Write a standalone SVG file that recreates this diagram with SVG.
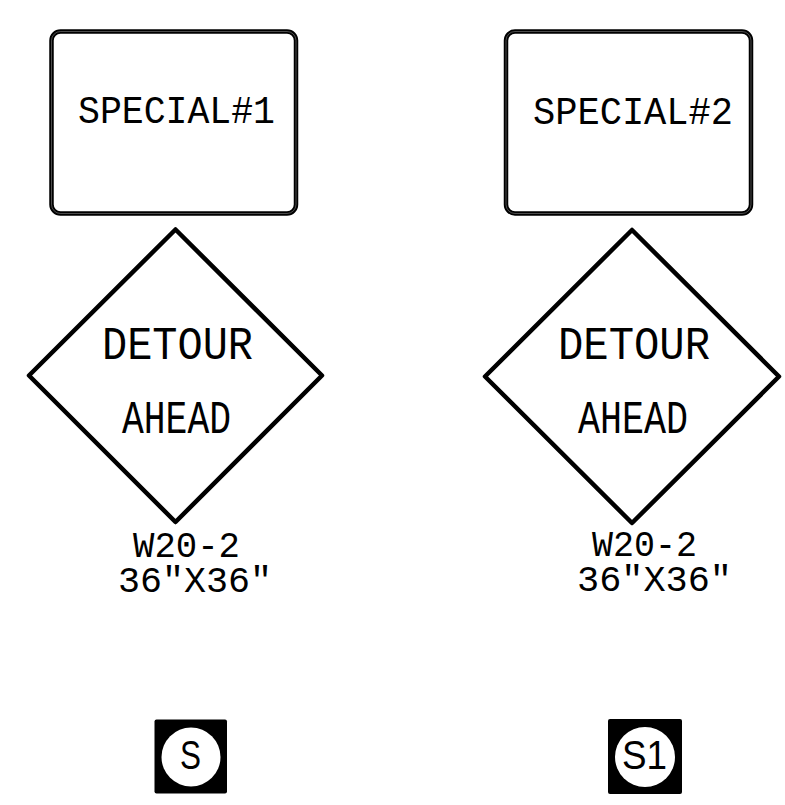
<svg xmlns="http://www.w3.org/2000/svg" width="785" height="805" viewBox="0 0 785 805">
<style>
.frame{fill:#fff;stroke:#000;stroke-width:4.5;stroke-linejoin:round}
.inner{fill:none;stroke:#fff;stroke-width:0.6;opacity:0.5}
.t{font-family:"Liberation Mono","DejaVu Sans Mono",monospace;fill:#000}
.s{font-family:"Liberation Sans","DejaVu Sans",sans-serif;fill:#000}
</style>
<rect width="785" height="805" fill="#fff"/>
<g id="special1">
<rect class="frame" x="51.5" y="31.5" width="244.5" height="182" rx="9"/>
<rect class="inner" x="51.5" y="31.5" width="244.5" height="182" rx="9"/>
<text class="t" x="78" y="123" font-size="38" textLength="197" lengthAdjust="spacingAndGlyphs">SPECIAL#1</text>
</g>
<g id="special2">
<rect class="frame" x="506" y="31.5" width="245" height="182" rx="9"/>
<rect class="inner" x="506" y="31.5" width="245" height="182" rx="9"/>
<text class="t" x="533" y="124" font-size="38" textLength="200" lengthAdjust="spacingAndGlyphs">SPECIAL#2</text>
</g>
<g id="detour1">
<polygon class="frame" points="175.5,229.5 322,375.5 175.5,522 29,375.5"/>
<text class="t" x="102" y="359" font-size="47" textLength="151" lengthAdjust="spacingAndGlyphs">DETOUR</text>
<text class="t" x="122" y="433" font-size="47" textLength="109" lengthAdjust="spacingAndGlyphs">AHEAD</text>
</g>
<g id="detour2">
<polygon class="frame" points="632,230 779,376.5 632,523 485,376.5"/>
<text class="t" x="558" y="359" font-size="47" textLength="152" lengthAdjust="spacingAndGlyphs">DETOUR</text>
<text class="t" x="578" y="433" font-size="47" textLength="110" lengthAdjust="spacingAndGlyphs">AHEAD</text>
</g>
<g id="label1">
<text class="t" x="133" y="557" font-size="36" textLength="107" lengthAdjust="spacingAndGlyphs">W20-2</text>
<text class="t" x="118" y="592" font-size="36" textLength="154" lengthAdjust="spacingAndGlyphs">36"X36"</text>
</g>
<g id="label2">
<text class="t" x="592" y="556" font-size="36" textLength="105" lengthAdjust="spacingAndGlyphs">W20-2</text>
<text class="t" x="577" y="591" font-size="36" textLength="155" lengthAdjust="spacingAndGlyphs">36"X36"</text>
</g>
<g id="badgeS">
<rect x="154.5" y="719.5" width="72.5" height="74" rx="2" fill="#000"/>
<circle cx="191" cy="757" r="29.5" fill="#fff"/>
<text class="s" x="180" y="769" font-size="41" textLength="21" lengthAdjust="spacingAndGlyphs">S</text>
</g>
<g id="badgeS1">
<rect x="608" y="719" width="74" height="75" rx="2" fill="#000"/>
<circle cx="645" cy="757" r="30" fill="#fff"/>
<text class="s" x="622" y="769" font-size="41" textLength="45" lengthAdjust="spacingAndGlyphs">S1</text>
</g>
<g id="connectors"/>
</svg>
